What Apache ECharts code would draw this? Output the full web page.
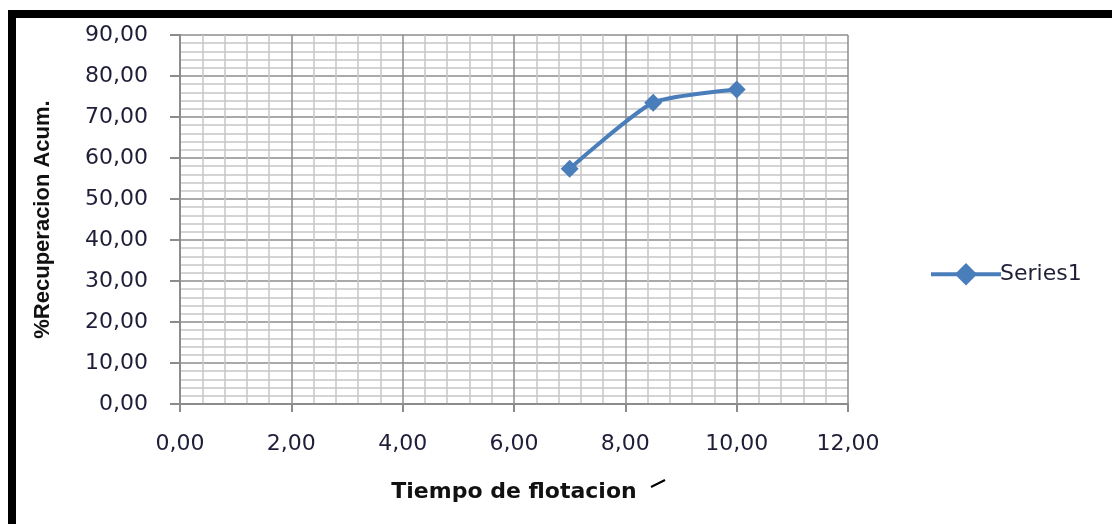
<!DOCTYPE html>
<html>
<head>
<meta charset="utf-8">
<script src="https://cdn.jsdelivr.net/npm/echarts@6/dist/echarts.min.js"></script>
<style>html,body{margin:0;padding:0;background:#fff}#c{width:1112px;height:524px}</style>
</head>
<body>
<div id="c"></div>
<script>
var seriesName = 'Series1';
var timeValues = [7.0, 8.5, 10.0];
var recoveryValues = [57.4, 73.5, 76.7];
var xTicks = [0, 2, 4, 6, 8, 10, 12];
var yTicks = [0, 10, 20, 30, 40, 50, 60, 70, 80, 90];
var xTitle = 'Tiempo de flotacion';
var yTitle = '%Recuperacion Acum.';

var points = timeValues.map(function (t, i) { return [t, recoveryValues[i]]; });
function fmt(v) { return v.toFixed(2).replace('.', ','); }

var chart = echarts.init(document.getElementById('c'), null, {renderer: 'canvas'});
chart.setOption({
  animation: false,
  backgroundColor: '#fff',
  grid: {left: 180, right: 264, top: 35, bottom: 120, containLabel: false},
  xAxis: {
    type: 'value', min: xTicks[0], max: xTicks[xTicks.length - 1], interval: 2,
    name: xTitle, nameLocation: 'middle', nameGap: 77,
    nameTextStyle: {fontFamily: 'DejaVu Sans', fontWeight: 'bold', fontSize: 22, color: '#111', verticalAlign: 'top'},
    axisLine: {show: true, onZero: false, lineStyle: {color: '#8c8c8c', width: 2}},
    axisTick: {show: true, inside: false, length: 8, lineStyle: {color: '#8c8c8c', width: 2}},
    axisLabel: {margin: 29, formatter: fmt, fontFamily: 'DejaVu Sans', fontSize: 22, color: '#1e1e38', verticalAlign: 'top'},
    splitLine: {show: true, lineStyle: {color: '#8c8c8c', width: 1.5}},
    minorTick: {show: false, splitNumber: 5},
    minorSplitLine: {show: true, lineStyle: {color: '#c6c6c6', width: 1.5}}
  },
  yAxis: {
    type: 'value', min: yTicks[0], max: yTicks[yTicks.length - 1], interval: 10,
    name: yTitle, nameLocation: 'middle', nameGap: 126, nameRotate: 90,
    nameTextStyle: {fontFamily: 'Liberation Sans', fontWeight: 'bold', fontSize: 22, color: '#111'},
    axisLine: {show: true, lineStyle: {color: '#8c8c8c', width: 2}},
    axisTick: {show: true, inside: false, length: 10, lineStyle: {color: '#8c8c8c', width: 2}},
    axisLabel: {margin: 32, formatter: fmt, fontFamily: 'DejaVu Sans', fontSize: 22, color: '#1e1e38'},
    splitLine: {show: true, lineStyle: {color: '#8c8c8c', width: 1.5}},
    minorTick: {show: false, splitNumber: 5},
    minorSplitLine: {show: true, lineStyle: {color: '#c6c6c6', width: 1.5}}
  },
  legend: {
    show: true, orient: 'vertical', left: 924, top: 258,
    itemWidth: 70, itemHeight: 28, itemGap: 4,
    lineStyle: {width: 4},
    textStyle: {fontFamily: 'DejaVu Sans', fontSize: 22, color: '#1e1e38', padding: [0, 0, 0, -6]},
    data: [seriesName]
  },
  series: [{
    name: seriesName, type: 'line', data: points, smooth: 0.2,
    symbol: 'diamond', symbolSize: 18,
    lineStyle: {color: '#4a7ebb', width: 4},
    itemStyle: {color: '#4a7ebb'}
  }],
  graphic: [
    {type: 'rect', shape: {x: 8, y: 10, width: 1104, height: 8}, style: {fill: '#000'}, silent: true},
    {type: 'rect', shape: {x: 8, y: 10, width: 8, height: 514}, style: {fill: '#000'}, silent: true},
    {type: 'line', shape: {x1: 651, y1: 487, x2: 665, y2: 480}, style: {stroke: '#000', lineWidth: 2}, silent: true}
  ]
});
</script>
</body>
</html>
